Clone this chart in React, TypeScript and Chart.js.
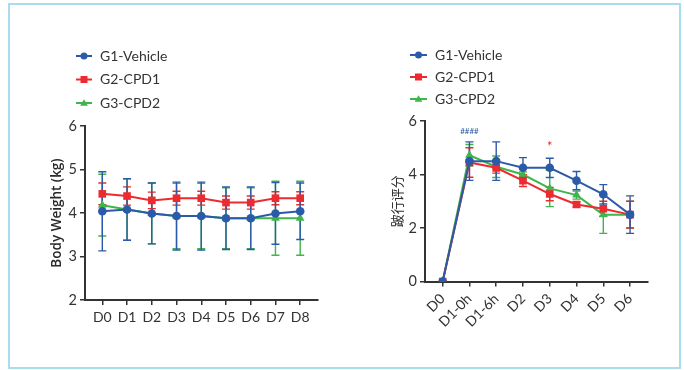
import React, { useEffect, useRef } from 'react';
import { Chart, registerables } from 'chart.js';
Chart.register(...registerables);

// ---------- data: body weight ----------
const bwDays = ['D0', 'D1', 'D2', 'D3', 'D4', 'D5', 'D6', 'D7', 'D8'];
const bwG1 = [4.04, 4.08, 3.99, 3.93, 3.93, 3.88, 3.88, 3.99, 4.04];
const bwG1Sd = [0.91, 0.71, 0.7, 0.78, 0.78, 0.72, 0.72, 0.71, 0.65];
const bwG2 = [4.44, 4.39, 4.29, 4.34, 4.34, 4.24, 4.24, 4.34, 4.34];
const bwG2Sd = [0.25, 0.21, 0.19, 0.16, 0.16, 0.15, 0.15, 0.15, 0.15];
const bwG3 = [4.18, 4.08, 3.99, 3.93, 3.93, 3.88, 3.88, 3.88, 3.88];
const bwG3Sd = [0.71, 0.7, 0.7, 0.75, 0.75, 0.7, 0.7, 0.85, 0.85];
const bwTicks = [2, 3, 4, 5, 6];

// ---------- data: lameness score ----------
const lsDays = ['D0', 'D1-0h', 'D1-6h', 'D2', 'D3', 'D4', 'D5', 'D6'];
const lsG1 = [0, 4.5, 4.5, 4.25, 4.25, 3.77, 3.26, 2.5];
const lsG1Sd = [0, 0.72, 0.72, 0.38, 0.36, 0.34, 0.36, 0.7];
const lsG2 = [0, 4.45, 4.25, 3.77, 3.27, 2.88, 2.72, 2.5];
const lsG2Sd = [0, 0.55, 0.2, 0.22, 0.25, 0.1, 0.28, 0.5];
const lsG3 = [0, 4.72, 4.29, 4.0, 3.48, 3.23, 2.5, 2.5];
const lsG3Sd = [0, 0.4, 0.4, 0.1, 0.68, 0.15, 0.7, 0.5];
const lsTicks = [0, 2, 4, 6];
const annText = ['####', '*'];
const annIdx = [1, 4];
const annVal = [5.6, 5.05];

const seriesNames = ['G1-Vehicle', 'G2-CPD1', 'G3-CPD2'];
const BLUE = '#2b5ba8';
const RED = '#ec2a2f';
const GREEN = '#3fb54b';
const AXIS = '#333333';
const FONT = 'Lato';

function drawMarker(ctx: CanvasRenderingContext2D, style: string, x: number, y: number, r: number, color: string) {
  ctx.fillStyle = color;
  ctx.beginPath();
  if (style === 'circle') {
    ctx.arc(x, y, r, 0, Math.PI * 2);
  } else if (style === 'rect') {
    ctx.rect(x - r, y - r, 2 * r, 2 * r);
  } else {
    ctx.moveTo(x, y - r * 1.1);
    ctx.lineTo(x + r * 1.1, y + r * 0.75);
    ctx.lineTo(x - r * 1.1, y + r * 0.75);
    ctx.closePath();
  }
  ctx.fill();
}

const errorBarPlugin = {
  id: 'errorBars',
  beforeDatasetsDraw(chart: any) {
    const { ctx } = chart;
    const xs = chart.scales.x;
    const ys = chart.scales.y;
    ctx.save();
    for (let d = chart.data.datasets.length - 1; d >= 0; d--) {
      const ds: any = chart.data.datasets[d];
      const sd = ds.errors;
      if (!sd) continue;
      ctx.strokeStyle = ds.borderColor;
      ctx.lineWidth = 1.4;
      ds.data.forEach((p: any, i: number) => {
        const e = sd[i];
        if (!e) return;
        const x = xs.getPixelForValue(p.x);
        const y1 = ys.getPixelForValue(p.y + e);
        const y2 = ys.getPixelForValue(p.y - e);
        const cap = 4;
        ctx.beginPath();
        ctx.moveTo(x, y1);
        ctx.lineTo(x, y2);
        ctx.moveTo(x - cap, y1);
        ctx.lineTo(x + cap, y1);
        ctx.moveTo(x - cap, y2);
        ctx.lineTo(x + cap, y2);
        ctx.stroke();
      });
    }
    ctx.restore();
  },
};

const legendPlugin = {
  id: 'sideLegend',
  afterDraw(chart: any, _args: any, opts: any) {
    const { ctx } = chart;
    ctx.save();
    chart.data.datasets.forEach((ds: any, i: number) => {
      const y = opts.y0 + i * opts.dy;
      ctx.strokeStyle = ds.borderColor;
      ctx.lineWidth = 2;
      ctx.beginPath();
      ctx.moveTo(opts.x0, y);
      ctx.lineTo(opts.x0 + opts.len, y);
      ctx.stroke();
      drawMarker(ctx, ds.pointStyle, opts.x0 + opts.len / 2, y, 3.5, ds.borderColor);
      ctx.fillStyle = '#333';
      ctx.font = `14px ${FONT}`;
      ctx.textBaseline = 'middle';
      ctx.textAlign = 'left';
      ctx.fillText(ds.label, opts.textX, y);
    });
    ctx.restore();
  },
};

const annotationPlugin = {
  id: 'sigMarks',
  afterDatasetsDraw(chart: any, _args: any, opts: any) {
    if (!opts.texts) return;
    const { ctx } = chart;
    ctx.save();
    opts.texts.forEach((t: string, i: number) => {
      const x = chart.scales.x.getPixelForValue(opts.idx[i]);
      const y = chart.scales.y.getPixelForValue(opts.vals[i]);
      ctx.fillStyle = opts.colors[i];
      ctx.font = `${opts.sizes[i]}px ${FONT}`;
      ctx.textAlign = 'center';
      ctx.textBaseline = 'middle';
      ctx.fillText(t, x, y);
    });
    ctx.restore();
  },
};

function makeDataset(label: string, vals: number[], sd: number[], color: string, style: string, r: number) {
  return {
    label,
    data: vals.map((v, i) => ({ x: i, y: v })),
    errors: sd,
    borderColor: color,
    backgroundColor: color,
    borderWidth: 2,
    pointStyle: style,
    pointRadius: r,
    pointBorderWidth: 0,
    pointBackgroundColor: color,
    tension: 0,
  };
}

function buildConfig(p: any) {
  return {
    type: 'line',
    data: {
      datasets: [
        makeDataset(seriesNames[0], p.g1, p.g1sd, BLUE, 'circle', 4.3),
        makeDataset(seriesNames[1], p.g2, p.g2sd, RED, 'rect', 5.4),
        makeDataset(seriesNames[2], p.g3, p.g3sd, GREEN, 'triangle', 5),
      ],
    },
    options: {
      responsive: false,
      animation: false,
      layout: { padding: p.padding },
      plugins: {
        legend: { display: false },
        tooltip: { enabled: false },
        sideLegend: p.legend,
        sigMarks: p.ann || {},
      },
      scales: {
        x: {
          type: 'linear',
          min: p.xmin,
          max: p.xmax,
          afterBuildTicks: (s: any) => {
            s.ticks = p.labels.map((_: string, i: number) => ({ value: i }));
          },
          afterFit: (s: any) => {
            s.height = p.xHeight;
          },
          ticks: {
            autoSkip: false,
            maxRotation: p.rot,
            minRotation: p.rot,
            padding: 4,
            color: '#333',
            font: { family: FONT, size: 14 },
            callback: (v: number) => p.labels[v],
          },
          grid: { drawOnChartArea: false, drawTicks: true, tickLength: 5, color: AXIS, lineWidth: 1.5 },
          border: { display: true, color: AXIS, width: 2 },
        },
        y: {
          type: 'linear',
          min: p.ymin,
          max: p.ymax,
          afterBuildTicks: (s: any) => {
            s.ticks = p.yticks.map((v: number) => ({ value: v }));
          },
          afterFit: (s: any) => {
            s.width = p.yWidth;
          },
          ticks: {
            padding: 3,
            color: '#333',
            font: { family: FONT, size: 14.5 },
          },
          grid: { drawOnChartArea: false, drawTicks: true, tickLength: 5, color: AXIS, lineWidth: 1.5 },
          border: { display: true, color: AXIS, width: 2 },
          title: {
            display: true,
            text: p.ytitle,
            color: '#2a2a2a',
            font: p.ytitleFont,
            padding: { top: p.ytitlePad, bottom: 0 },
          },
        },
      },
    },
    plugins: [errorBarPlugin, legendPlugin, annotationPlugin],
  };
}

function ChartCanvas({ params, left }: { params: any; left: number }) {
  const ref = useRef<HTMLCanvasElement>(null);
  useEffect(() => {
    const chart = new Chart(ref.current as HTMLCanvasElement, buildConfig(params) as any);
    return () => chart.destroy();
  }, []);
  return <canvas ref={ref} width={342} height={370} style={{ position: 'absolute', left, top: 0 }} />;
}

const bwParams = {
  g1: bwG1, g1sd: bwG1Sd, g2: bwG2, g2sd: bwG2Sd, g3: bwG3, g3sd: bwG3Sd,
  labels: bwDays, yticks: bwTicks, ymin: 2, ymax: 6,
  xmin: -0.7, xmax: 8.72, rot: 0,
  padding: { left: 0, top: 126, right: 24, bottom: 30 },
  xHeight: 40, yWidth: 85,
  ytitle: 'Body Weight (kg)',
  ytitleFont: { family: 'Open Sans', size: 13.5, weight: '600' },
  ytitlePad: 48.6,
  legend: { x0: 76, len: 16, textX: 100, y0: 56, dy: 23.5 },
};

const lsParams = {
  g1: lsG1, g1sd: lsG1Sd, g2: lsG2, g2sd: lsG2Sd, g3: lsG3, g3sd: lsG3Sd,
  labels: lsDays, yticks: lsTicks, ymin: 0, ymax: 6,
  xmin: -0.66, xmax: 7.67, rot: 45,
  padding: { left: 0, top: 121, right: 36, bottom: 28.5 },
  xHeight: 60, yWidth: 83,
  ytitle: '跛行评分',
  ytitleFont: { family: 'Noto Sans CJK SC', size: 13, weight: 'normal' },
  ytitlePad: 47.7,
  legend: { x0: 68, len: 17, textX: 93, y0: 55, dy: 22 },
  ann: { texts: annText, idx: annIdx, vals: annVal, colors: [BLUE, RED], sizes: [8, 13] },
};

export default function App() {
  return (
    <div style={{ position: 'absolute', left: 0, top: 0, width: 684, height: 370, background: '#fff' }}>
      <div
        style={{
          position: 'absolute', left: 8, top: 3, width: 673, height: 366,
          border: '2.5px solid #a9dcf0', boxSizing: 'border-box',
        }}
      />
      <ChartCanvas params={bwParams} left={0} />
      <ChartCanvas params={lsParams} left={342} />
    </div>
  );
}
